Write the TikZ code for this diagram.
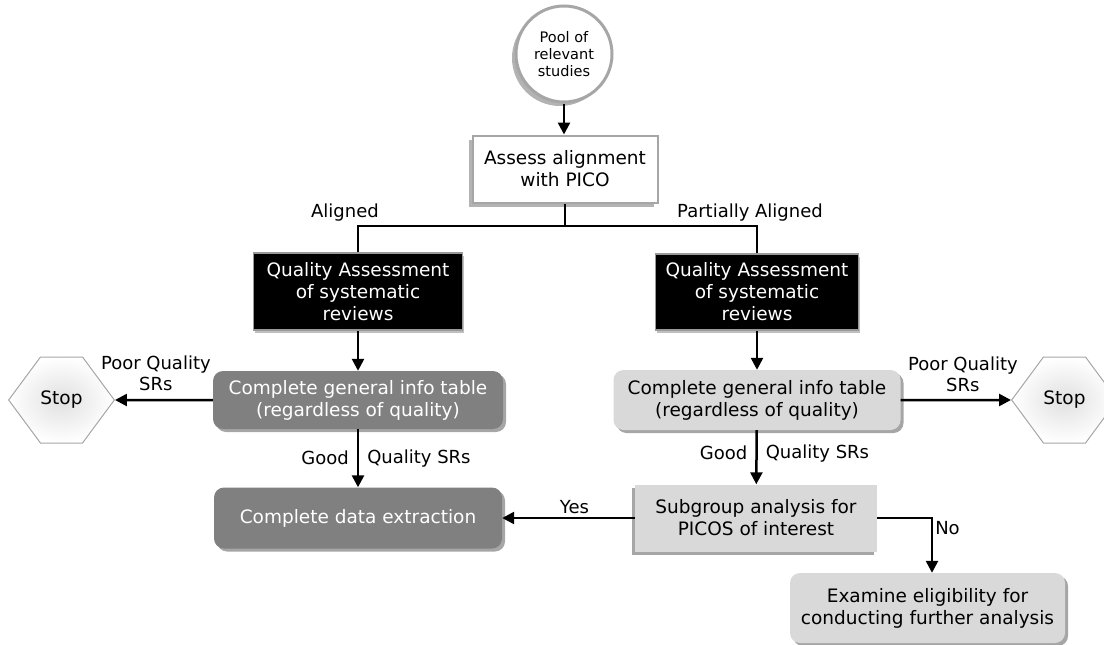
\documentclass[tikz,border=0pt]{standalone}
\usepackage{fontspec}
\setmainfont{DejaVu Sans}
\usetikzlibrary{arrows.meta,shapes.symbols,shadows}
\tikzset{
  txt/.style={align=center,inner sep=0pt,font=\fontsize{18.5}{22}\selectfont},
  pool/.style={circle,draw=black!35,line width=3pt,fill=white,minimum size=96pt,
    align=center,inner sep=0pt,font=\fontsize{14.5}{17}\selectfont,
    drop shadow={shadow xshift=-4pt,shadow yshift=-4pt,opacity=.6}},
  plainbox/.style={txt,draw=black!35,line width=2pt,fill=white,
    drop shadow={shadow xshift=-4pt,shadow yshift=-4pt,opacity=.6}},
  blackbox/.style={txt,draw=black!40,line width=1.5pt,fill=black,text=white,
    drop shadow={shadow xshift=1pt,shadow yshift=-3pt,opacity=.5}},
  darkbox/.style={txt,rounded corners=10pt,fill=black!50,text=white,
    drop shadow={shadow xshift=3pt,shadow yshift=-3pt,opacity=.7}},
  lightbox/.style={txt,rounded corners=10pt,fill=black!15,
    drop shadow={shadow xshift=3pt,shadow yshift=-3pt,opacity=.7}},
  squarebox/.style={txt,fill=black!15,
    drop shadow={shadow xshift=-3pt,shadow yshift=-3pt,opacity=.7}},
  stopsign/.style={txt,signal,signal to=west and east,signal pointer angle=107,
    draw=black!35,line width=1pt,inner color=black!12,outer color=white,
    minimum width=103pt,minimum height=86pt},
  flow/.style={line width=2.5pt,-{Triangle[length=12pt,width=12pt]}},
  link/.style={line width=2.5pt},
  lbl/.style={font=\fontsize{18}{21}\selectfont,align=center}
}
\begin{document}
\begin{tikzpicture}[x=1pt,y=-1pt]
\useasboundingbox (0,0) rectangle (1104,645);
% top
\node[pool] (pool) at (564,54) {Pool of\\relevant\\studies};
\node[plainbox,minimum width=185pt,minimum height=67pt] (assess) at (565,169) {Assess alignment\\with PICO};
\coordinate (split) at (565,226);
\coordinate (lsplit) at (358,226);
\coordinate (rsplit) at (757,226);
% quality assessment
\node[blackbox,minimum width=209pt,minimum height=77pt] (qaL) at (358,291.5) {Quality Assessment\\of systematic\\reviews};
\node[blackbox,minimum width=203pt,minimum height=76pt] (qaR) at (757,292) {Quality Assessment\\of systematic\\reviews};
% info tables
\node[darkbox,minimum width=290pt,minimum height=58pt] (infoL) at (358,400) {Complete general info table\\(regardless of quality)};
\node[lightbox,minimum width=287pt,minimum height=60pt] (infoR) at (757,400) {Complete general info table\\(regardless of quality)};
\node[stopsign] (stopL) at (61.5,400) {Stop};
\node[stopsign] (stopR) at (1064.5,400) {Stop};
% bottom
\node[darkbox,minimum width=288pt,minimum height=61pt] (extract) at (358,518) {Complete data extraction};
\node[squarebox,minimum width=242pt,minimum height=67pt] (subgroup) at (756,518) {Subgroup analysis for\\PICOS of interest};
\node[lightbox,minimum width=275pt,minimum height=70pt] (examine) at (927.5,608) {Examine eligibility for\\conducting further analysis};
\coordinate (nobend) at (932,518);

\draw[flow] (pool) -- (pool |- assess.north);
\draw[link] (assess) -- (split) -- (lsplit) node[lbl,above,xshift=-13pt]{Aligned} -- (qaL);
\draw[link] (split) -- (rsplit) node[lbl,above,xshift=-7pt]{Partially Aligned} -- (qaR);
\draw[flow] (qaL) -- (infoL);
\draw[flow] (qaR) -- (infoR);
\draw[flow] (infoL) -- node[lbl,above,xshift=-8pt,inner sep=8pt]{Poor Quality\\SRs} (stopL);
\draw[flow] (infoR) -- node[lbl,above,xshift=7pt,inner sep=7pt]{Poor Quality\\SRs} (stopR);
\draw[flow] (infoL) -- node[lbl,left,inner sep=8pt]{Good} node[lbl,right,inner sep=8pt]{Quality SRs} (extract);
\draw[flow] (infoR) -- node[lbl,left,inner sep=8pt,yshift=4pt]{Good} node[lbl,right,inner sep=8pt,yshift=4pt]{Quality SRs} (subgroup);
\draw[flow] (subgroup) -- node[lbl,above,xshift=6pt]{Yes} (extract);
\draw[flow] (subgroup) -- (nobend) node[lbl,below right,inner sep=2pt]{No} -- (nobend |- examine.north);
\end{tikzpicture}
\end{document}
